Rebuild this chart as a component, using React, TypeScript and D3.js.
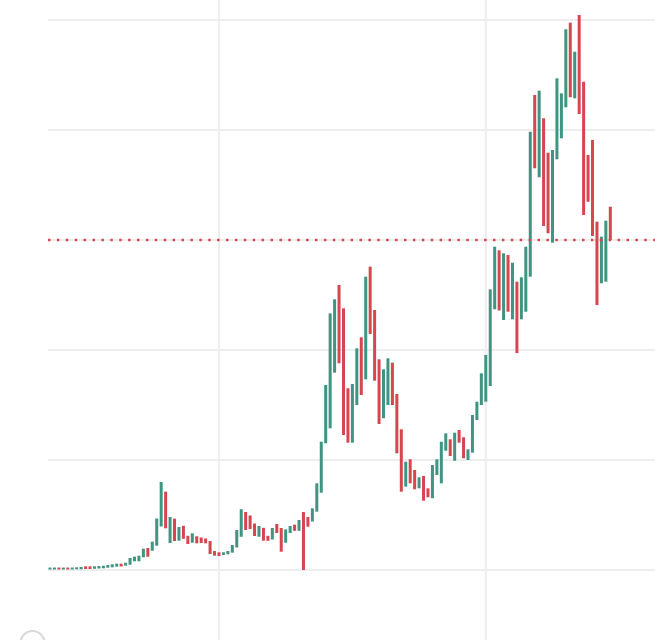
import React, { useEffect, useRef } from 'react';
import * as d3 from 'd3';

// candle opens / closes, one per bar, in price units (grid every 20)
const opens = [
  0.09, 0.09, 0.45, 0.09, 0.45, 0.09, 0.13, 0.13, 0.67, 0.67,
  0.22, 0.27, 0.31, 0.42, 0.49, 0.6, 1.15, 0.78, 0.96, 1.58,
  1.58, 2.31, 4.0, 3.51, 4.42, 7.91, 14.24, 4.91, 9.33, 5.33,
  8.04, 6.22, 4.96, 6.13, 5.91, 5.73, 5.27, 3.45, 3.22, 2.73,
  2.85, 3.15, 4.09, 6.04, 10.55, 9.91, 8.45, 6.05, 7.67, 6.22,
  5.55, 8.36, 7.64, 4.96, 6.73, 8.24, 7.13, 10.55, 9.64, 8.82,
  10.6, 14.05, 23.04, 25.76, 35.87, 51.82, 47.58, 33.04, 23.15, 30.0,
  42.31, 34.67, 55.15, 47.27, 38.31, 27.58, 30.0, 37.69, 32.0, 25.58,
  15.15, 20.13, 18.18, 14.85, 17.09, 14.85, 13.04, 17.27, 15.76, 21.69,
  23.76, 19.87, 25.45, 24.13, 20.0, 21.33, 27.27, 30.0, 30.6, 33.45,
  47.4, 58.13, 45.45, 57.27, 45.58, 52.42, 45.58, 46.96, 53.33, 86.36,
  71.4, 82.13, 75.87, 59.51, 74.67, 78.49, 84.13, 99.51, 85.76, 100.91,
  88.78, 75.45, 78.18, 63.33, 52.13, 52.42, 66.05
];

const closes = [
  0.45, 0.45, 0.09, 0.45, 0.09, 0.45, 0.49, 0.55, 0.18, 0.18,
  0.67, 0.73, 0.78, 0.91, 1.04, 1.15, 0.64, 1.33, 2.18, 2.42,
  2.6, 3.87, 2.42, 5.15, 9.36, 16.0, 7.58, 9.64, 5.27, 7.82,
  5.67, 4.73, 6.67, 4.85, 4.91, 4.85, 2.91, 2.6, 2.55, 3.22,
  3.45, 4.55, 7.27, 11.05, 7.27, 7.45, 6.18, 8.0, 5.33, 5.31,
  7.64, 6.73, 3.33, 7.4, 8.0, 7.13, 9.09, 0.0, 7.87, 11.22,
  15.76, 23.33, 33.64, 46.67, 49.22, 37.58, 24.55, 23.15, 33.82, 40.31,
  31.82, 53.33, 42.91, 34.42, 26.55, 36.49, 38.49, 30.0, 21.22, 14.24,
  19.69, 15.76, 14.67, 16.85, 12.6, 13.22, 19.09, 20.13, 23.33, 24.85,
  20.73, 24.96, 23.15, 20.31, 21.95, 28.18, 30.6, 35.76, 39.09, 51.04,
  58.78, 47.18, 57.58, 46.96, 55.87, 39.45, 53.22, 58.78, 79.69, 73.04,
  87.15, 62.55, 61.22, 76.36, 89.4, 86.67, 98.31, 85.95, 94.24, 82.91,
  64.55, 66.96, 60.73, 48.18, 60.6, 63.51, 60.0
];

const priceGrid = [0, 20, 40, 60, 80, 100];
const timeGrid = [38, 98];
const lastPrice = 60;

const UP = '#3f9482';
const DOWN = '#d6464f';

const CandleChart: React.FC<{ width?: number; height?: number }> = ({
  width = 655,
  height = 640
}) => {
  const svgRef = useRef<SVGSVGElement>(null);

  useEffect(() => {
    document.body.style.margin = '0';
    const svg = d3.select(svgRef.current);
    svg.selectAll('*').remove();

    const plotLeft = 48;
    const idx = opens.map((_, i) => i);

    const x = d3.scalePoint<number>()
      .domain(idx)
      .range([50, 610.3]);

    const y = d3.scaleLinear()
      .domain([0, 100])
      .range([570, 20]);

    svg.attr('width', width).attr('height', height);

    // grid
    svg.append('g')
      .selectAll('line')
      .data(priceGrid)
      .join('line')
      .attr('x1', plotLeft)
      .attr('x2', width)
      .attr('y1', d => y(d))
      .attr('y2', d => y(d))
      .attr('stroke', '#eeeef1')
      .attr('stroke-width', 2);

    svg.append('g')
      .selectAll('line')
      .data(timeGrid)
      .join('line')
      .attr('x1', d => x(d)!)
      .attr('x2', d => x(d)!)
      .attr('y1', 0)
      .attr('y2', height)
      .attr('stroke', '#eeeef1')
      .attr('stroke-width', 2);

    // candles (bodies only)
    const bw = 3;
    svg.append('g')
      .selectAll('rect')
      .data(idx)
      .join('rect')
      .attr('x', i => x(i)! - bw / 2)
      .attr('y', i => y(Math.max(opens[i], closes[i])))
      .attr('width', bw)
      .attr('height', i => Math.max(1.5, Math.abs(y(opens[i]) - y(closes[i]))))
      .attr('fill', i => (closes[i] >= opens[i] ? UP : DOWN));

    // last price line
    svg.append('line')
      .attr('x1', plotLeft)
      .attr('x2', width)
      .attr('y1', y(lastPrice))
      .attr('y2', y(lastPrice))
      .attr('stroke', DOWN)
      .attr('stroke-width', 2.5)
      .attr('stroke-dasharray', '2.5,6.4');

    // logo ring, mostly cut off at the bottom edge
    svg.append('circle')
      .attr('cx', 32.5)
      .attr('cy', 643)
      .attr('r', 12)
      .attr('fill', 'none')
      .attr('stroke', '#d6d8de')
      .attr('stroke-width', 2);
  }, [width, height]);

  return <svg ref={svgRef} style={{ display: 'block', background: '#fff' }}></svg>;
};

export default function App() {
  return <CandleChart />;
}
